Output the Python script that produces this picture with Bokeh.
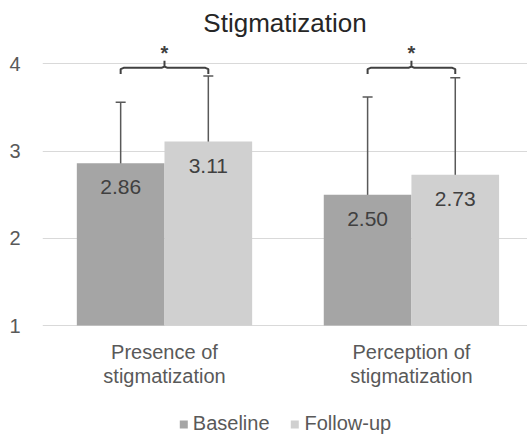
from bokeh.plotting import figure
from bokeh.models import (ColumnDataSource, Range1d, FixedTicker, Whisker, TeeHead,
                          Legend, LegendItem)
from bokeh.core.properties import value
from bokeh.embed import file_html
from bokeh.resources import INLINE

# ---- data ----
categories = ["Presence of\nstigmatization", "Perception of\nstigmatization"]
series = ["Baseline", "Follow-up"]
baseline = [2.86, 2.50]
followup = [3.11, 2.73]
baseline_sd = [0.70, 1.12]
followup_sd = [0.75, 1.11]
significance = ["*", "*"]
y_ticks = [1, 2, 3, 4]

# ---- styling constants ----
FONT = "Liberation Sans"
BW = 0.355
C_BASE = "#a5a5a5"
C_FU = "#d0d0d0"
TXT = "#595959"
Y0 = 1
BRACKET_Y = 3.955

idx = list(range(len(categories)))
xb = [i - BW / 2 for i in idx]
xf = [i + BW / 2 for i in idx]

# frame extends below the value axis so the category labels and legend sit inside it
p = figure(width=527, height=435, x_range=Range1d(-0.494, 1.47), y_range=Range1d(-0.26, 4.245),
           output_backend="svg", toolbar_location=None, x_axis_location=None,
           min_border_left=42, min_border_right=0, min_border_top=5, min_border_bottom=0)
p.outline_line_color = None
p.background_fill_color = "white"
p.border_fill_color = "white"

p.title.text = "Stigmatization"
p.title.align = "center"
p.title.offset = -8
p.title.text_font = FONT
p.title.text_font_size = "26px"
p.title.text_font_style = "normal"
p.title.text_color = "#262626"

# bars
src_b = ColumnDataSource(dict(x=xb, top=baseline, lo=[m - s for m, s in zip(baseline, baseline_sd)],
                              hi=[m + s for m, s in zip(baseline, baseline_sd)],
                              lab=[f"{v:.2f}" for v in baseline]))
src_f = ColumnDataSource(dict(x=xf, top=followup, lo=[m - s for m, s in zip(followup, followup_sd)],
                              hi=[m + s for m, s in zip(followup, followup_sd)],
                              lab=[f"{v:.2f}" for v in followup]))
rb = p.vbar(x="x", top="top", bottom=Y0, width=BW, source=src_b, fill_color=C_BASE, line_color=None)
rf = p.vbar(x="x", top="top", bottom=Y0, width=BW, source=src_f, fill_color=C_FU, line_color=None)

for src in (src_b, src_f):
    p.text(x="x", y="top", text="lab", source=src, text_font=value(FONT), text_font_size="21px",
           text_color="#404040", text_align="center", text_baseline="middle", y_offset=24)
    w = Whisker(base="x", upper="hi", lower="lo", source=src, line_color="#595959", line_width=1.5,
                upper_head=TeeHead(size=10, line_color="#595959", line_width=1.5),
                lower_head=TeeHead(size=10, line_color="#595959", line_width=1.5))
    p.add_layout(w)

# significance brackets
xs, ys = [], []
d = 0.012
for a, b in zip(xb, xf):
    c = (a + b) / 2
    xs.append([a, a, a + d, c - d, c, c, c, c + d, b - d, b, b])
    ys.append([BRACKET_Y - 0.07, BRACKET_Y - 0.015, BRACKET_Y, BRACKET_Y, BRACKET_Y + 0.015,
               BRACKET_Y + 0.08, BRACKET_Y + 0.015, BRACKET_Y, BRACKET_Y, BRACKET_Y - 0.015,
               BRACKET_Y - 0.07])
p.multi_line(xs=xs, ys=ys, line_color="#404040", line_width=2)
p.text(x=[(a + b) / 2 for a, b in zip(xb, xf)], y=[BRACKET_Y] * len(xb), text=significance,
       text_font=value(FONT), text_font_size="20px", text_font_style="bold", text_color="#404040",
       text_align="center", text_baseline="middle", y_offset=-15)

# category labels (below the value-axis baseline)
p.text(x=idx, y=[Y0] * len(idx), text=categories, text_font=value(FONT), text_font_size="20px",
       text_color=TXT, text_align="center", text_baseline="top", text_line_height=1.1, y_offset=15)

# axes
p.xgrid.grid_line_color = None
p.ygrid.grid_line_color = "#d9d9d9"
p.ygrid.grid_line_width = 1
p.yaxis.ticker = FixedTicker(ticks=y_ticks)
p.yaxis.axis_line_color = None
p.yaxis.major_tick_line_color = None
p.yaxis.minor_tick_line_color = None
p.yaxis.major_label_text_font = FONT
p.yaxis.major_label_text_font_size = "20px"
p.yaxis.major_label_text_color = TXT
p.yaxis.major_label_standoff = 16

legend = Legend(items=[LegendItem(label=series[0], renderers=[rb]),
                       LegendItem(label=series[1], renderers=[rf])],
                orientation="horizontal", location="bottom_center")
legend.label_text_font = FONT
legend.label_text_font_size = "20px"
legend.label_text_color = TXT
legend.glyph_width = 10
legend.glyph_height = 10
legend.label_standoff = 5
legend.spacing = 20
legend.padding = 1
legend.margin = 0
legend.border_line_color = None
legend.background_fill_alpha = 0
p.add_layout(legend, "center")

open("out.html", "w").write(file_html(p, INLINE))
